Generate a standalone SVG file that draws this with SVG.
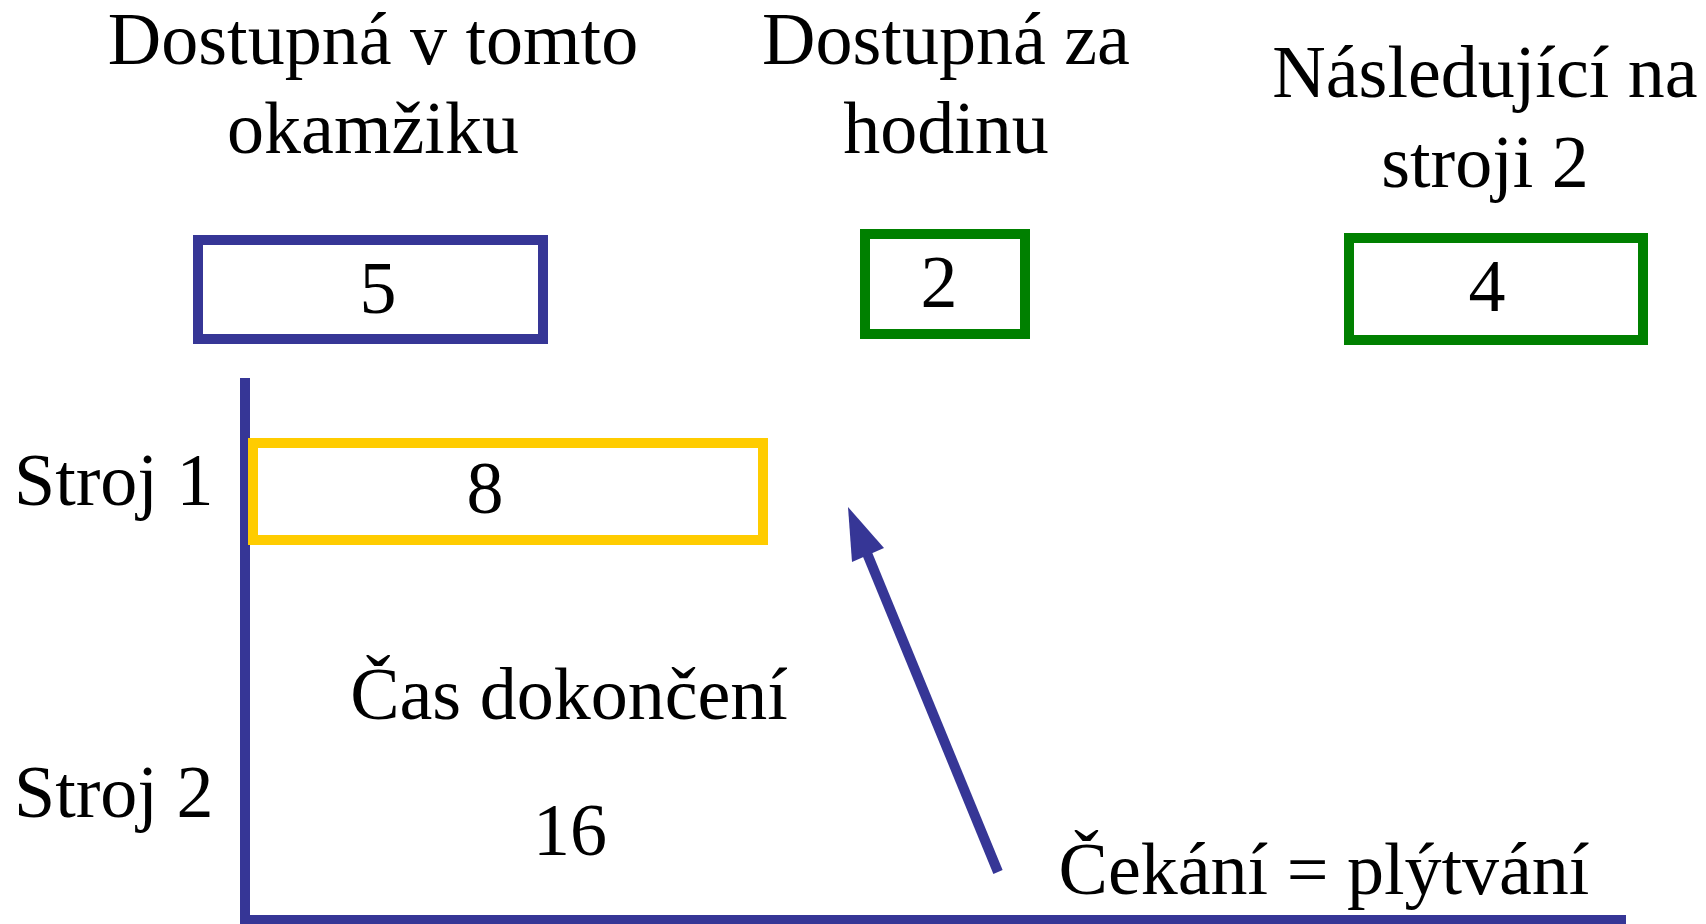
<svg xmlns="http://www.w3.org/2000/svg" width="1706" height="924" viewBox="0 0 1706 924">
<style>
.t text{font-size:74px;fill:#000}
.c{text-anchor:middle}
.box{fill:#fff;stroke-width:10}
.blue{stroke:#363696}
.green{stroke:#008000}
.yellow{stroke:#FFCC00}
.ax{stroke:#363696;stroke-width:10;fill:none}
</style>
<rect width="1706" height="924" fill="#fff"/>
<g class="t" font-family="Liberation Serif, DejaVu Serif, serif">
<g id="label-now"><text class="c" x="373" y="64">Dostupná v tomto</text><text class="c" x="373" y="153">okamžiku</text></g>
<g id="label-hour"><text class="c" x="946" y="64">Dostupná za</text><text class="c" x="946" y="153">hodinu</text></g>
<g id="label-next"><text class="c" x="1485" y="97">Následující na</text><text class="c" x="1485" y="187">stroji 2</text></g>
<g id="node-5"><rect class="box blue" x="198" y="240" width="345" height="99"/><text class="c" x="378" y="313">5</text></g>
<g id="node-2"><rect class="box green" x="865" y="234" width="160" height="100"/><text class="c" x="939" y="307">2</text></g>
<g id="node-4"><rect class="box green" x="1349" y="238" width="294" height="102"/><text class="c" x="1487" y="311">4</text></g>
<g id="axes"><path class="ax" d="M245 378 V920 H1626"/></g>
<g id="node-8"><rect class="box yellow" x="253" y="443" width="510" height="97"/><text class="c" x="485" y="513">8</text></g>
<g id="label-stroj1"><text x="14" y="505">Stroj 1</text></g>
<g id="label-stroj2"><text x="14" y="817">Stroj 2</text></g>
<g id="label-cas"><text class="c" x="569" y="719">Čas dokončení</text><text class="c" x="570" y="855">16</text></g>
<g id="connectors">
<line x1="998" y1="872" x2="864" y2="546" stroke="#363696" stroke-width="10"/>
<polygon points="848,507 884,548 852,562" fill="#363696"/>
</g>
<g id="label-wait"><text class="c" x="1324" y="894">Čekání = plýtvání</text></g>
</g>
</svg>
